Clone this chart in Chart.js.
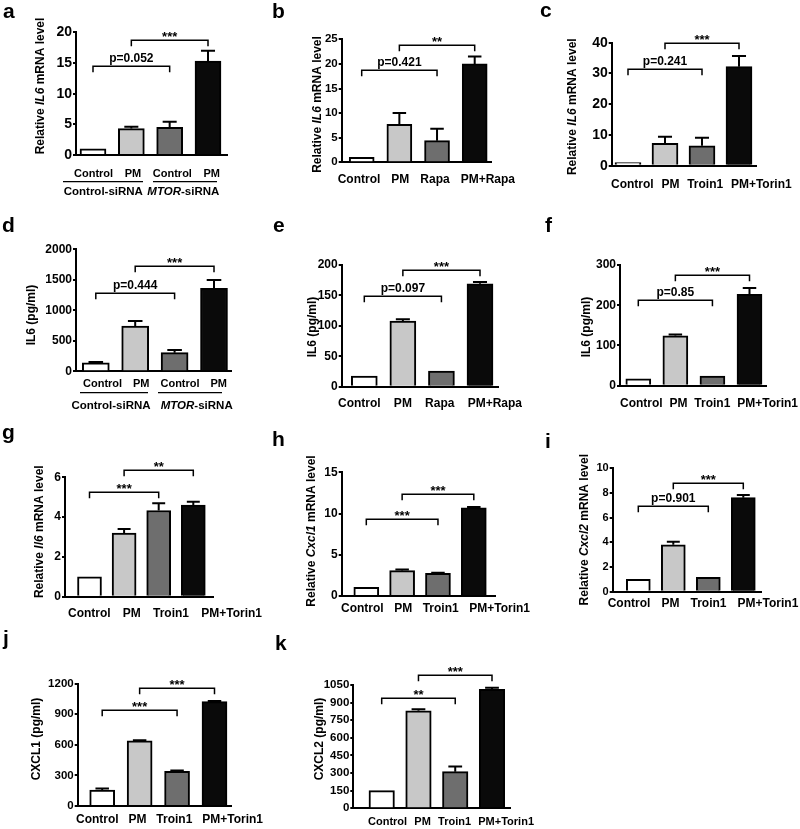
<!DOCTYPE html>
<html>
<head>
<meta charset="utf-8">
<script src="https://cdn.jsdelivr.net/npm/chart.js@4.4.1/dist/chart.umd.min.js"></script>
<style>
  html, body { margin: 0; padding: 0; background: #fff; }
  #fig { position: relative; width: 800px; height: 829px; overflow: hidden; background: #fff; }
  #fig canvas { position: absolute; }
</style>
</head>
<body>
<div id="fig"></div>
<script>
// ---------------- data ----------------
var siLabels = ['Control', 'PM', 'Control', 'PM'];
var rapaLabels = ['Control', 'PM', 'Rapa', 'PM+Rapa'];
var torinLabels = ['Control', 'PM', 'Troin1', 'PM+Torin1'];
var siGroups = [[['Control-siRNA', false]], [['MTOR', true], ['-siRNA', false]]];

// mean, SEM (drawn upward), y tick labels, brackets [from, to, level, text]
var aMean = [1.0, 4.3, 4.5, 15.3];
var aSem = [0, 0.3, 0.9, 1.7];
var aTicks = [0, 5, 10, 15, 20];
var aSig = [[0, 2, 14.5, 'p=0.052'], [1, 3, 18.7, '***']];

var bMean = [1.0, 7.7, 4.4, 20.0];
var bSem = [0, 2.3, 2.4, 1.5];
var bTicks = [0, 5, 10, 15, 20, 25];
var bSig = [[0, 2, 18.8, 'p=0.421'], [1, 3, 23.8, '**']];

var cMean = [1.0, 7.3, 6.5, 32.2];
var cSem = [0, 2.1, 2.6, 3.5];
var cTicks = [0, 10, 20, 30, 40];
var cSig = [[0, 2, 31.4, 'p=0.241'], [1, 3, 39.8, '***']];

var dMean = [140, 743, 306, 1361];
var dSem = [12, 82, 44, 136];
var dTicks = [0, 500, 1000, 1500, 2000];
var dSig = [[0, 2, 1279, 'p=0.444'], [1, 3, 1727, '***']];

var eMean = [17.5, 108, 25.8, 169];
var eSem = [0, 3, 0, 3];
var eTicks = [0, 50, 100, 150, 200];
var eSig = [[0, 2, 149.6, 'p=0.097'], [1, 3, 191.8, '***']];

var fMean = [17, 124, 24, 227];
var fSem = [0, 3, 0, 16];
var fTicks = [0, 100, 200, 300];
var fSig = [[0, 2, 213, 'p=0.85'], [1, 3, 275, '***']];

var gMean = [1.0, 3.2, 4.33, 4.6];
var gSem = [0, 0.2, 0.37, 0.17];
var gTicks = [0, 2, 4, 6];
var gSig = [[0, 2, 5.25, '***'], [1, 3, 6.37, '**']];

var hMean = [1.05, 3.07, 2.75, 10.7];
var hSem = [0, 0.13, 0.08, 0.1];
var hTicks = [0, 5, 10, 15];
var hSig = [[0, 2, 9.34, '***'], [1, 3, 12.37, '***']];

var iMean = [1.0, 3.8, 1.16, 7.62];
var iSem = [0, 0.25, 0, 0.22];
var iTicks = [0, 2, 4, 6, 8, 10];
var iSig = [[0, 2, 6.97, 'p=0.901'], [1, 3, 8.78, '***']];

var jMean = [155, 639, 339, 1023];
var jSem = [17, 6, 9, 6];
var jTicks = [0, 150, 300, 450, 600, 750, 900, 1050, 1200];
var jSig = [[0, 2, 942, '***'], [1, 3, 1152, '***']];

var kMean = [150, 831, 312, 1013];
var kSem = [0, 12, 43, 14];
var kTicks = [0, 150, 300, 450, 600, 750, 900, 1050];
var kSig = [[0, 2, 936, '**'], [1, 3, 1135, '***']];

function mrna(gene) { return [['Relative ', false], [gene, true], [' mRNA level', false]]; }
function plain(t) { return [[t, false]]; }

// ---------------- look ----------------
var FONT = "'Liberation Sans', Arial, sans-serif";
var fills = ['#ffffff', '#c8c8c8', '#6e6e6e', '#0a0a0a'];

// page-pixel layout of each panel (box = canvas x, y, w, h; row = label row left/right)
var panels = [
  { letter: 'a', labels: siLabels, mean: aMean, sem: aSem, ticks: aTicks, sig: aSig, title: mrna('IL6'), groups: siGroups,
    lay: { box: [0, 0, 265, 205], axL: 76, axT: 32.3, axB: 155, axR: 227, c0: 93, c3: 208, bw: 26, tf: 14, lf: 11, lb: 176.5, row: [74, 220],
           tx: 41, ty: 86, lx: 3, ly: 18, gy: 181.7, gl: [[63, 143], [153, 217]], gc: [103.3, 183.3], gty: 192 } },
  { letter: 'b', labels: rapaLabels, mean: bMean, sem: bSem, ticks: bTicks, sig: bSig, title: mrna('IL6'),
    lay: { box: [265, 0, 270, 205], axL: 341.7, axT: 39.3, axB: 162.3, axR: 491.7, c0: 361.7, c3: 474.7, bw: 25, tf: 11.5, lf: 12, lb: 182.5, row: [337.7, 515],
           tx: 318, ty: 104.5, lx: 272, ly: 18 } },
  { letter: 'c', labels: torinLabels, mean: cMean, sem: cSem, ticks: cTicks, sig: cSig, title: mrna('IL6'),
    lay: { box: [535, 0, 265, 205], axL: 611.7, axT: 42.7, axB: 165.7, axR: 756.7, c0: 628, c3: 739, bw: 26, tf: 14, lf: 12, lb: 188, row: [611, 791.7],
           tx: 572.7, ty: 106.7, lx: 540, ly: 17 } },
  { letter: 'd', labels: siLabels, mean: dMean, sem: dSem, ticks: dTicks, sig: dSig, title: plain('IL6 (pg/ml)'), groups: siGroups,
    lay: { box: [0, 210, 265, 205], axL: 76, axT: 249.3, axB: 371.3, axR: 231.7, c0: 95.8, c3: 214, bw: 27, tf: 12, lf: 11, lb: 386.5, row: [83, 227],
           tx: 32, ty: 315, lx: 2, ly: 232, gy: 392.7, gl: [[80, 148], [158, 222]], gc: [111, 196.7], gty: 405.5 } },
  { letter: 'e', labels: rapaLabels, mean: eMean, sem: eSem, ticks: eTicks, sig: eSig, title: plain('IL6 (pg/ml)'),
    lay: { box: [265, 210, 270, 205], axL: 341.7, axT: 265, axB: 386.7, axR: 498, c0: 364.3, c3: 480, bw: 26, tf: 12, lf: 12, lb: 407, row: [338, 522],
           tx: 313, ty: 327, lx: 273, ly: 232 } },
  { letter: 'f', labels: torinLabels, mean: fMean, sem: fSem, ticks: fTicks, sig: fSig, title: plain('IL6 (pg/ml)'),
    lay: { box: [535, 210, 265, 205], axL: 620, axT: 265, axB: 385.7, axR: 766.7, c0: 638.3, c3: 749.5, bw: 25, tf: 12, lf: 12, lb: 407, row: [620, 798],
           tx: 587, ty: 327, lx: 545, ly: 232 } },
  { letter: 'g', labels: torinLabels, mean: gMean, sem: gSem, ticks: gTicks, sig: gSig, title: mrna('Il6'),
    lay: { box: [0, 415, 265, 205], axL: 65, axT: 477.3, axB: 596.7, axR: 213.3, c0: 89.5, c3: 193.3, bw: 24, tf: 12, lf: 12, lb: 617, row: [68, 262],
           tx: 40, ty: 531.7, lx: 2, ly: 439 } },
  { letter: 'h', labels: torinLabels, mean: hMean, sem: hSem, ticks: hTicks, sig: hSig, title: mrna('Cxcl1'),
    lay: { box: [265, 415, 270, 205], axL: 341.7, axT: 472.3, axB: 596, axR: 495, c0: 366.3, c3: 473.8, bw: 25, tf: 12, lf: 12, lb: 611.5, row: [341, 530],
           tx: 311.7, ty: 531, lx: 272, ly: 446 } },
  { letter: 'i', labels: torinLabels, mean: iMean, sem: iSem, ticks: iTicks, sig: iSig, title: mrna('Cxcl2'),
    lay: { box: [535, 415, 265, 205], axL: 612.7, axT: 468.3, axB: 591.7, axR: 761.7, c0: 638.3, c3: 743.3, bw: 24, tf: 11, lf: 12, lb: 606.5, row: [607.7, 798.3],
           tx: 584.3, ty: 529.7, lx: 545, ly: 448 } },
  { letter: 'j', labels: torinLabels, mean: jMean, sem: jSem, ticks: jTicks, sig: jSig, title: plain('CXCL1 (pg/ml)'),
    lay: { box: [0, 620, 265, 209], axL: 77.7, axT: 683.5, axB: 806, axR: 231.7, c0: 102.2, c3: 214.5, bw: 25, tf: 11.5, lf: 12, lb: 823, row: [76, 263],
           tx: 37, ty: 739, lx: 3, ly: 645 } },
  { letter: 'k', labels: torinLabels, mean: kMean, sem: kSem, ticks: kTicks, sig: kSig, title: plain('CXCL2 (pg/ml)'),
    lay: { box: [265, 620, 270, 209], axL: 353.3, axT: 685, axB: 808.3, axR: 510, c0: 381.7, c3: 492, bw: 25.5, tf: 11.5, lf: 11, lb: 825, row: [368, 534],
           tx: 320, ty: 739, lx: 275, ly: 650 } }
];

// text made of plain / italic pieces, centred on (x, y)
function mixed(ctx, parts, x, y, size, rotate) {
  ctx.save();
  ctx.translate(x, y);
  if (rotate) ctx.rotate(-Math.PI / 2);
  ctx.textAlign = 'left';
  ctx.textBaseline = 'middle';
  ctx.fillStyle = '#000';
  var total = 0;
  parts.forEach(function (p) {
    ctx.font = (p[1] ? 'italic ' : '') + 'bold ' + size + 'px ' + FONT;
    total += ctx.measureText(p[0]).width;
  });
  var cx = -total / 2;
  parts.forEach(function (p) {
    ctx.font = (p[1] ? 'italic ' : '') + 'bold ' + size + 'px ' + FONT;
    ctx.fillText(p[0], cx, 0);
    cx += ctx.measureText(p[0]).width;
  });
  ctx.restore();
}

function makePanel(p) {
  var L = p.lay;
  var ox = L.box[0], oy = L.box[1];
  var cv = document.createElement('canvas');
  cv.width = L.box[2];
  cv.height = L.box[3];
  cv.style.left = ox + 'px';
  cv.style.top = oy + 'px';
  document.getElementById('fig').appendChild(cv);

  var step = (L.c3 - L.c0) / 3;
  var xMin = -(L.c0 - L.axL) / step;
  var xMax = 3 + (L.axR - L.c3) / step;

  var decor = {
    id: 'decor',
    afterDraw: function (chart) {
      var ctx = chart.ctx;
      var ys = chart.scales.y;
      var bars = chart.getDatasetMeta(0).data;
      ctx.save();
      ctx.strokeStyle = '#000';
      ctx.fillStyle = '#000';

      // error bars (upper half only)
      ctx.lineWidth = 2;
      bars.forEach(function (b, i) {
        if (!p.sem[i]) return;
        var top = ys.getPixelForValue(p.mean[i] + p.sem[i]);
        var cap = L.bw * 0.27;
        ctx.beginPath();
        ctx.moveTo(b.x, b.y);
        ctx.lineTo(b.x, top);
        ctx.moveTo(b.x - cap, top);
        ctx.lineTo(b.x + cap, top);
        ctx.stroke();
      });

      // significance brackets
      ctx.lineWidth = 1.5;
      ctx.textAlign = 'center';
      ctx.textBaseline = 'alphabetic';
      p.sig.forEach(function (s) {
        var x1 = bars[s[0]].x, x2 = bars[s[1]].x;
        var yy = Math.round(ys.getPixelForValue(s[2])) + 0.25;
        ctx.beginPath();
        ctx.moveTo(x1, yy + 6);
        ctx.lineTo(x1, yy);
        ctx.lineTo(x2, yy);
        ctx.lineTo(x2, yy + 6);
        ctx.stroke();
        var star = s[3].charAt(0) === '*';
        ctx.font = 'bold ' + (star ? 13 : 12) + 'px ' + FONT;
        ctx.fillText(s[3], (x1 + x2) / 2, star ? yy + 0.5 : yy - 4.5);
      });

      // category labels, spread evenly along the label row
      ctx.font = 'bold ' + L.lf + 'px ' + FONT;
      ctx.textAlign = 'left';
      var widths = p.labels.map(function (t) { return ctx.measureText(t).width; });
      var sum = widths.reduce(function (a, b) { return a + b; }, 0);
      var gap = (L.row[1] - L.row[0] - sum) / (p.labels.length - 1);
      var lx = L.row[0] - ox;
      p.labels.forEach(function (t, i) {
        ctx.fillText(t, lx, L.lb - oy);
        lx += widths[i] + gap;
      });

      // siRNA group lines and labels
      if (p.groups) {
        ctx.lineWidth = 1.2;
        L.gl.forEach(function (g, k) {
          ctx.beginPath();
          ctx.moveTo(g[0] - ox, L.gy - oy);
          ctx.lineTo(g[1] - ox, L.gy - oy);
          ctx.stroke();
          mixed(ctx, p.groups[k], L.gc[k] - ox, L.gty - oy, 11.5, false);
        });
      }

      // y axis title
      mixed(ctx, p.title, L.tx - ox, L.ty - oy, 12, true);

      // panel letter
      ctx.textAlign = 'left';
      ctx.font = 'bold 21px ' + FONT;
      ctx.fillText(p.letter, L.lx - ox, L.ly - oy);
      ctx.restore();
    }
  };

  new Chart(cv, {
    type: 'bar',
    data: {
      datasets: [{
        data: p.mean.map(function (v, i) { return { x: i, y: v }; }),
        backgroundColor: fills,
        borderColor: '#000',
        borderWidth: 2,
        barThickness: L.bw
      }]
    },
    options: {
      responsive: false,
      animation: false,
      events: [],
      layout: { padding: { left: 0, top: L.axT - oy, right: ox + L.box[2] - L.axR, bottom: 0 } },
      plugins: { legend: { display: false }, tooltip: { enabled: false } },
      scales: {
        x: {
          type: 'linear', min: xMin, max: xMax, offset: false, z: 1,
          ticks: { display: false },
          grid: { display: false },
          border: { display: true, color: '#000', width: 2 },
          afterFit: function (s) { s.height = oy + L.box[3] - L.axB; }
        },
        y: {
          min: p.ticks[0], max: p.ticks[p.ticks.length - 1], z: 1,
          afterBuildTicks: function (s) { s.ticks = p.ticks.map(function (v) { return { value: v }; }); },
          ticks: {
            color: '#000', padding: 1,
            font: { family: FONT, weight: 'bold', size: L.tf },
            callback: function (v) { return String(v); }
          },
          grid: { drawOnChartArea: false, drawTicks: true, tickLength: 3, color: '#000', lineWidth: 2 },
          border: { color: '#000', width: 2 },
          afterFit: function (s) { s.width = L.axL - ox; }
        }
      }
    },
    plugins: [decor]
  });
}

panels.forEach(makePanel);
</script>
</body>
</html>
